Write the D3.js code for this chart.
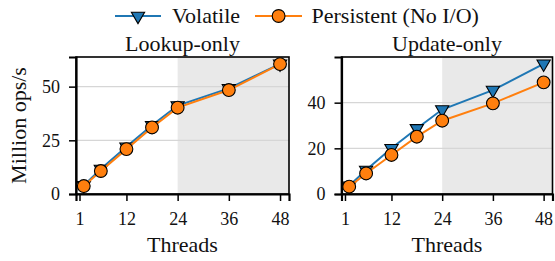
<!DOCTYPE html>
<html>
<head>
<meta charset="utf-8">
<script src="https://cdn.jsdelivr.net/npm/d3@7"></script>
</head>
<body style="margin:0">
<svg id="chart" width="555" height="261" font-family="'Liberation Serif', 'Times New Roman', Tinos, FreeSerif"></svg>
<script>
  const threads = [2, 6, 12, 18, 24, 36, 48];
  const xTicks = [1, 12, 24, 36, 48];

  const lookupVolatile = [4.0, 11.6, 22.0, 32.0, 41.2, 49.2, 60.6];
  const lookupPersistent = [3.7, 10.7, 20.9, 31.0, 40.2, 48.4, 60.5];
  const updateVolatile = [3.6, 10.5, 20.0, 28.7, 37.0, 45.5, 57.0];
  const updatePersistent = [3.2, 9.0, 17.1, 25.1, 32.1, 39.7, 48.9];

  const lookupTicks = [0, 25, 50];
  const updateTicks = [0, 20, 40];

  const blue = "#1f77b4";
  const orange = "#ff7f0e";
  const serif = '"Liberation Serif", "Times New Roman", Tinos, FreeSerif';

  const svg = d3.select("#chart");

  const panels = [
    { title: "Lookup-only", left: 76, right: 289, ymax: 63.8, yTicks: lookupTicks,
      vol: lookupVolatile, per: lookupPersistent, ylabel: true },
    { title: "Update-only", left: 341.5, right: 552.5, ymax: 60, yTicks: updateTicks,
      vol: updateVolatile, per: updatePersistent, ylabel: false }
  ];
  const plotTop = 57, plotBottom = 194;

  const tri = d3.symbol().type(d3.symbolTriangle).size(76);

  function label(sel, size) {
    return sel.style("font-family", serif).style("font-size", size + "px").style("fill", "#111");
  }

  panels.forEach(p => {
    const x = d3.scaleLinear().domain([0.18, 50.1]).range([p.left, p.right]);
    const y = d3.scaleLinear().domain([0, p.ymax]).range([plotBottom, plotTop]);
    const g = svg.append("g");

    // shaded region (24 threads and up)
    g.append("rect")
      .attr("x", x(24)).attr("y", plotTop)
      .attr("width", p.right - x(24)).attr("height", plotBottom - plotTop)
      .attr("fill", "#e9e9e9");

    // grid
    g.selectAll(".grid")
      .data(p.yTicks.filter(d => d > 0))
      .enter().append("line")
      .attr("x1", p.left).attr("x2", p.right)
      .attr("y1", d => y(d)).attr("y2", d => y(d))
      .attr("stroke", "#d6d6d6").attr("stroke-width", 1.2);

    // frame
    g.append("rect")
      .attr("x", p.left).attr("y", plotTop)
      .attr("width", p.right - p.left).attr("height", plotBottom - plotTop)
      .attr("fill", "none").attr("stroke", "#000").attr("stroke-width", 1.6);

    // axes
    const xAxis = g.append("g")
      .attr("transform", `translate(0,${plotBottom})`)
      .call(d3.axisBottom(x).tickValues(xTicks).tickSize(7).tickPadding(7));
    const yAxis = g.append("g")
      .attr("transform", `translate(${p.left},0)`)
      .call(d3.axisLeft(y).tickValues(p.yTicks).tickSize(7).tickPadding(9));
    [xAxis, yAxis].forEach(a => {
      a.attr("font-family", null);
      a.select(".domain").attr("stroke", "#000").attr("stroke-width", 2.2);
      a.selectAll(".tick line").attr("stroke", "#000").attr("stroke-width", 1.5);
      label(a.selectAll(".tick text"), 18);
    });
    xAxis.selectAll(".tick text").attr("dy", "0.95em");

    // title
    label(g.append("text"), 22)
      .attr("x", (p.left + p.right) / 2).attr("y", 51)
      .attr("text-anchor", "middle")
      .text(p.title);

    // x label
    label(g.append("text"), 22)
      .attr("x", (p.left + p.right) / 2).attr("y", 252)
      .attr("text-anchor", "middle")
      .text("Threads");

    if (p.ylabel) {
      label(g.append("text"), 22)
        .attr("transform", `translate(26,${(plotTop + plotBottom) / 2}) rotate(-90)`)
        .attr("text-anchor", "middle")
        .text("Million ops/s");
    }

    const line = d3.line().x((d, i) => x(threads[i])).y(d => y(d));

    g.append("path").datum(p.vol)
      .attr("d", line).attr("fill", "none")
      .attr("stroke", blue).attr("stroke-width", 2);
    g.selectAll(".tri")
      .data(p.vol).enter().append("path")
      .attr("d", tri)
      .attr("transform", (d, i) => `translate(${x(threads[i])},${y(d)}) rotate(180)`)
      .attr("fill", blue).attr("stroke", "#000").attr("stroke-width", 1.1);

    g.append("path").datum(p.per)
      .attr("d", line).attr("fill", "none")
      .attr("stroke", orange).attr("stroke-width", 2);
    g.selectAll(".dot")
      .data(p.per).enter().append("circle")
      .attr("cx", (d, i) => x(threads[i])).attr("cy", d => y(d))
      .attr("r", 6.4)
      .attr("fill", orange).attr("stroke", "#000").attr("stroke-width", 1.1);
  });

  // legend
  const legend = svg.append("g");
  const ly = 16;
  legend.append("line").attr("x1", 115).attr("x2", 161).attr("y1", ly).attr("y2", ly)
    .attr("stroke", blue).attr("stroke-width", 2);
  legend.append("path").attr("d", tri)
    .attr("transform", `translate(138,${ly}) rotate(180)`)
    .attr("fill", blue).attr("stroke", "#000").attr("stroke-width", 1.1);
  label(legend.append("text"), 22).attr("x", 172).attr("y", ly + 7).text("Volatile");

  legend.append("line").attr("x1", 255).attr("x2", 302).attr("y1", ly).attr("y2", ly)
    .attr("stroke", orange).attr("stroke-width", 2);
  legend.append("circle").attr("cx", 278.6).attr("cy", ly).attr("r", 6.4)
    .attr("fill", orange).attr("stroke", "#000").attr("stroke-width", 1.1);
  label(legend.append("text"), 22).attr("x", 311.5).attr("y", ly + 7).text("Persistent (No I/O)");
</script>
</body>
</html>
